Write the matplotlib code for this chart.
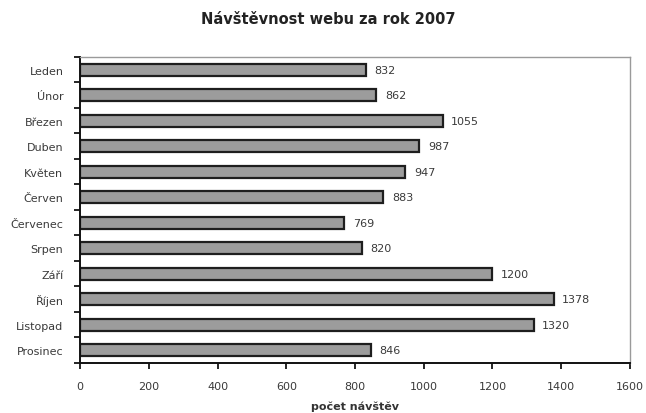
import numpy as np
import matplotlib.pyplot as plt

mesice = ['Leden', 'Únor', 'Březen', 'Duben', 'Květen', 'Červen', 'Červenec',
          'Srpen', 'Září', 'Říjen', 'Listopad', 'Prosinec']
navstevy = [832, 862, 1055, 987, 947, 883, 769, 820, 1200, 1378, 1320, 846]
x_ticks = [0, 200, 400, 600, 800, 1000, 1200, 1400, 1600]

plt.rcParams['font.family'] = ['DejaVu Sans']

fig = plt.figure(figsize=(6.46, 4.14), dpi=100)
ax = fig.add_axes([0.124, 0.121, 0.851, 0.739])

y = np.arange(len(mesice))
ax.barh(y, navstevy, height=0.46, color='#9c9c9c', edgecolor='#1e1e1e', linewidth=1.6)

for yi, v in zip(y, navstevy):
    ax.text(v + 25, yi, str(v), va='center', ha='left', fontsize=8, color='#3a3a3a')

ax.set_xlim(0, 1600)
ax.set_ylim(len(mesice) - 0.5, -0.5)
ax.set_xticks(x_ticks)
ax.set_xticklabels([str(t) for t in x_ticks], fontsize=8, color='#3a3a3a')
ax.set_yticks(y)
ax.set_yticklabels(mesice, fontsize=8, color='#3a3a3a')
ax.set_yticks(np.arange(-0.5, len(mesice)), minor=True)
ax.tick_params(axis='y', which='major', length=0, pad=12)
ax.tick_params(axis='y', which='minor', length=4, direction='out', width=1.2)
ax.tick_params(axis='x', which='major', length=4, direction='out', width=1.2, pad=9)

for s in ['top', 'right']:
    ax.spines[s].set_color('#9a9a9a')
    ax.spines[s].set_linewidth(1.0)
for s in ['left', 'bottom']:
    ax.spines[s].set_color('#111111')
    ax.spines[s].set_linewidth(1.4)

fig.suptitle('Návštěvnost webu za rok 2007', x=0.508, y=0.972, fontsize=10.5,
             fontweight='bold', color='#222222')
ax.set_xlabel('počet návštěv', fontsize=8, fontweight='bold', color='#333333', labelpad=7)

fig.savefig('out.png', dpi=100, facecolor='white')
